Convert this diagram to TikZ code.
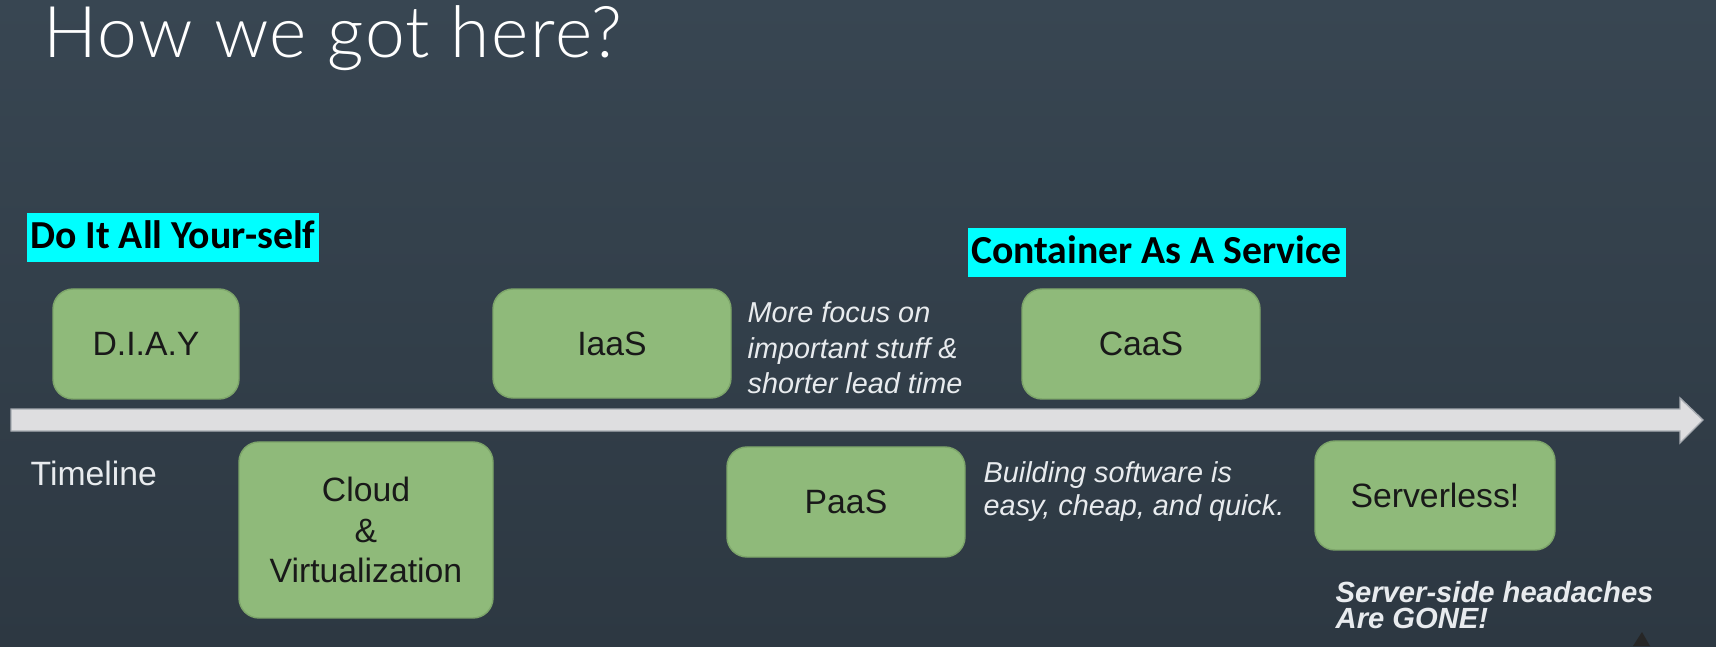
\documentclass[tikz,border=0pt]{standalone}
\usepackage{fontspec}
\setmainfont{Liberation Sans}
\newfontfamily\titlefont[LetterSpace=2]{Lato Light}
\newfontfamily\tagfont{Carlito}
\usepackage{tikz}
\usetikzlibrary{positioning}
\definecolor{slatetop}{RGB}{56, 70, 82}
\definecolor{slatebot}{RGB}{45, 56, 66}
\definecolor{boxgreen}{RGB}{143, 186, 122}
\definecolor{boxedge}{RGB}{125, 165, 106}
\definecolor{hilite}{RGB}{0, 255, 255}
\definecolor{barfill}{RGB}{222, 222, 224}
\definecolor{baredge}{RGB}{165, 170, 176}
\definecolor{notegray}{RGB}{232, 235, 238}
\tikzset{
  phase/.style={draw=boxedge, fill=boxgreen, rounded corners=0.2cm, align=center,
    inner sep=0pt, text=black!90, font=\fontsize{9.6}{11.5}\selectfont},
  tag/.style={fill=hilite, text=black, anchor=base west, inner xsep=1pt, inner ysep=0pt,
    text height=0.35cm, text depth=0.14cm, font=\tagfont\bfseries\fontsize{11.3}{13}\selectfont},
  note/.style={text=notegray, align=left, inner sep=0pt, anchor=north west}
}

\begin{document}
\begin{tikzpicture}
  % Slide background
  \shade[top color=slatetop, bottom color=slatebot] (0, 0) rectangle (17.16, 6.46);
  \node[anchor=base west, inner sep=0pt, text=white, font=\titlefont\fontsize{20.3}{24}\selectfont] (title) at (0.43, 5.88) {How we got here?};

  % Highlighted captions
  \node[tag] (diytag) at (0.26, 3.98) {Do It All Your-self};
  \node[tag] (caastag) at (9.67, 3.83) {Container As A Service};

  % Timeline arrow
  \draw[draw=baredge, fill=barfill, line width=0.4pt] (0.11, 2.37) -- (16.80, 2.37) -- (16.80, 2.48) -- (17.03, 2.26)
    -- (16.80, 2.03) -- (16.80, 2.15) -- (0.11, 2.15) -- cycle;
  \node[anchor=base west, inner sep=0pt, text=notegray, font=\fontsize{9.6}{11.5}\selectfont] (timeline) at (0.30, 1.60) {Timeline};

  % Above the line
  \node[phase, minimum width=1.86cm, minimum height=1.10cm] (diay) at (1.46, 3.02) {D.I.A.Y};
  \node[phase, minimum width=2.38cm, minimum height=1.09cm] (iaas) at (6.12, 3.025) {IaaS};
  \node[phase, minimum width=2.38cm, minimum height=1.10cm] (caas) at (11.41, 3.02) {CaaS};
  \node[note, font=\itshape\fontsize{8.2}{10.1}\selectfont] (focus) at (7.47, 3.45) {More focus on\\important stuff \&\\shorter lead time};

  % Below the line
  \node[phase, minimum width=2.54cm, minimum height=1.76cm] (cloud) at (3.66, 1.16) {Cloud\\\&\\Virtualization};
  \node[phase, minimum width=2.38cm, minimum height=1.10cm] (paas) at (8.46, 1.44) {PaaS};
  \node[note, font=\itshape\fontsize{8.2}{9.4}\selectfont] (easy) at (9.83, 1.85) {Building software is\\easy, cheap, and quick.};
  \node[phase, minimum width=2.40cm, minimum height=1.09cm] (serverless) at (14.35, 1.505) {Serverless!};
  \node[note, font=\bfseries\itshape\fontsize{8.3}{7.4}\selectfont] (gone) at (13.35, 0.65) {Server-side headaches\\Are GONE!};

  % Cursor at the bottom edge
  \fill[black!85] (16.42, 0.14) -- (16.50, 0) -- (16.33, 0) -- cycle;
\end{tikzpicture}
\end{document}
